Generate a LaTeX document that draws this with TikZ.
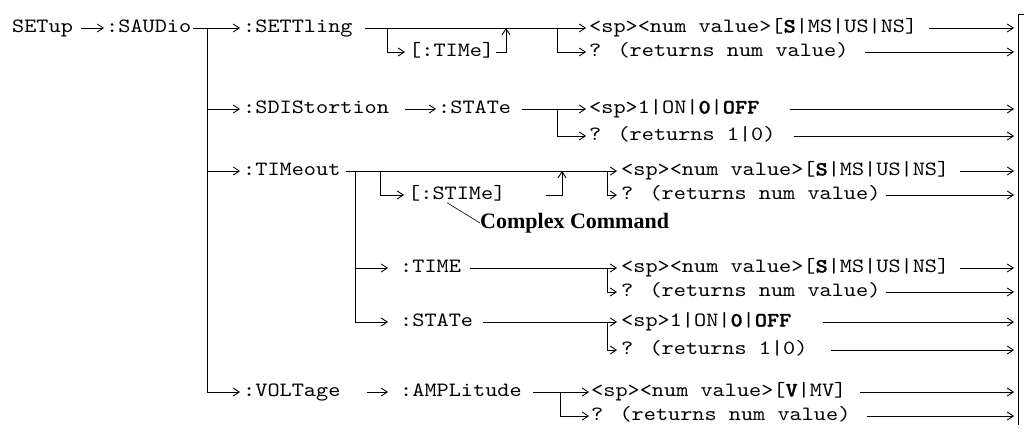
\documentclass[tikz,border=0pt]{standalone}
\usepackage{fontspec}
\newfontfamily\cour{lmmono10-regular.otf}[FakeStretch=1.14, BoldFont=lmmonolt10-bold.otf, BoldFeatures={FakeStretch=1.14,FakeBold=1.2}]
\newfontfamily\ccfont{Liberation Serif}
\usetikzlibrary{arrows.meta}
\begin{document}
\begin{tikzpicture}[x=1pt,y=-1pt,
  t/.style={anchor=west,inner sep=0pt,text height=12pt,text depth=3pt,font=\cour\fontsize{20.3}{24}\selectfont},
  ln/.style={line width=0.9pt},
  arr/.style={ln,-{Straight Barb[length=6pt,width=8pt,line width=0.9pt]}},
  lead/.style={line width=0.6pt},
  cctext/.style={anchor=west,inner sep=0pt,font=\ccfont\bfseries\fontsize{22}{26}\selectfont}
]
\useasboundingbox (0,0) rectangle (1024,434);
% level 0 / 1
\node[t] (setup) at (12,28) {SETup};
\node[t] (saudio) at (106,28) {:SAUDio};
\node[t] (settl) at (243,28) {:SETTling};
\node[t] (sdis) at (243,109) {:SDIStortion};
\node[t] (timeout) at (243,171) {:TIMeout};
\node[t] (volt) at (243,392) {:VOLTage};
\coordinate (tr1) at (207,28);
\coordinate (tr2) at (207,392);
\coordinate (bar) at (1014,0);
\draw[arr] ([xshift=8pt]setup.east) -- ([xshift=-2pt]saudio.west);
\draw[arr] ([xshift=2pt]saudio.east) -- ([xshift=-3pt]settl.west);
\draw[ln] (tr1) -- (tr2);
\draw[arr] (tr1 |- sdis.west) -- ([xshift=-3pt]sdis.west);
\draw[arr] (tr1 |- timeout.west) -- ([xshift=-3pt]timeout.west);
\draw[arr] (tr2) -- ([xshift=-3pt]volt.west);
% SETTling
\node[t] (s1a) at (589,28) {<sp><num value>[\textbf{S}|MS|US|NS]};
\node[t] (s1b) at (589,52) {? (returns num value)};
\node[t] (tim) at (409,52) {[:TIMe]};
\coordinate (b1) at (387,28);
\coordinate (rt1) at (506,28);
\coordinate (q1) at (557,28);
\draw[arr] ([xshift=12pt]settl.east) -- ([xshift=-3pt]s1a.west);
\draw[arr] (b1) |- ([xshift=-4pt]tim.west);
\draw[arr] ([xshift=2pt]tim.east) -| (rt1);
\draw[arr] (q1) |- ([xshift=-3pt]s1b.west);
\draw[arr] ([xshift=12pt]s1a.east) -- (s1a.east -| bar);
\draw[arr] ([xshift=16pt]s1b.east) -- (s1b.east -| bar);
% SDIStortion
\node[t] (st1) at (438,109) {:STATe};
\node[t] (s3a) at (589,109) {<sp>1|ON|\textbf{0}|\textbf{OFF}};
\node[t] (s3b) at (589,136) {? (returns 1|0)};
\coordinate (q3) at (557,109);
\draw[arr] ([xshift=16pt]sdis.east) -- ([xshift=-2pt]st1.west);
\draw[arr] ([xshift=11pt]st1.east) -- ([xshift=-3pt]s3a.west);
\draw[arr] (q3) |- ([xshift=-3pt]s3b.west);
\draw[arr] ([xshift=30pt]s3a.east) -- (s3a.east -| bar);
\draw[arr] ([xshift=18pt]s3b.east) -- (s3b.east -| bar);
% TIMeout
\node[t] (s5a) at (621,171) {<sp><num value>[\textbf{S}|MS|US|NS]};
\node[t] (s5b) at (621,195) {? (returns num value)};
\node[t] (stime) at (408,195) {[:STIMe]};
\node[cctext] (cc) at (480,223) {Complex Command};
\coordinate (sub1) at (355,171);
\coordinate (sub2) at (355,322);
\coordinate (b5) at (380,171);
\coordinate (rt5) at (562,171);
\coordinate (q5) at (607,171);
\draw[arr] ([xshift=5pt]timeout.east) -- ([xshift=-4pt]s5a.west);
\draw[ln] (sub1) -- (sub2);
\draw[arr] (b5) |- ([xshift=-4pt]stime.west);
\draw[arr] ([xshift=40pt]stime.east) -| (rt5);
\draw[arr] (q5) |- ([xshift=-4pt]s5b.west);
\draw[lead] ([xshift=39pt]stime.south west) -- (cc.west);
\draw[arr] ([xshift=11pt]s5a.east) -- (s5a.east -| bar);
\draw[arr] ([xshift=5pt]s5b.east) -- (s5b.east -| bar);
% TIME
\node[t] (time) at (400,268) {:TIME};
\node[t] (s7a) at (621,268) {<sp><num value>[\textbf{S}|MS|US|NS]};
\node[t] (s7b) at (621,292) {? (returns num value)};
\coordinate (q7) at (607,268);
\draw[arr] (sub1 |- time.west) -- ([xshift=-12pt]time.west);
\draw[arr] ([xshift=9pt]time.east) -- ([xshift=-4pt]s7a.west);
\draw[arr] (q7) |- ([xshift=-4pt]s7b.west);
\draw[arr] ([xshift=11pt]s7a.east) -- (s7a.east -| bar);
\draw[arr] ([xshift=5pt]s7b.east) -- (s7b.east -| bar);
% STATe
\node[t] (st2) at (400,322) {:STATe};
\node[t] (s9a) at (621,322) {<sp>1|ON|\textbf{0}|\textbf{OFF}};
\node[t] (s9b) at (621,350) {? (returns 1|0)};
\coordinate (q9) at (607,322);
\draw[arr] (sub2) -- ([xshift=-12pt]st2.west);
\draw[arr] ([xshift=10pt]st2.east) -- ([xshift=-4pt]s9a.west);
\draw[arr] (q9) |- ([xshift=-4pt]s9b.west);
\draw[arr] ([xshift=31pt]s9a.east) -- (s9a.east -| bar);
\draw[arr] ([xshift=23pt]s9b.east) -- (s9b.east -| bar);
% VOLTage
\node[t] (amp) at (400,392) {:AMPLitude};
\node[t] (s11a) at (591,392) {<sp><num value>[\textbf{V}|MV]};
\node[t] (s11b) at (591,416) {? (returns num value)};
\coordinate (q11) at (560,392);
\draw[arr] ([xshift=26pt]volt.east) -- ([xshift=-12pt]amp.west);
\draw[arr] ([xshift=11pt]amp.east) -- ([xshift=-2pt]s11a.west);
\draw[arr] (q11) |- ([xshift=-2pt]s11b.west);
\draw[arr] ([xshift=13pt]s11a.east) -- (s11a.east -| bar);
\draw[arr] ([xshift=16pt]s11b.east) -- (s11b.east -| bar);
% right bar
\coordinate (bartop) at (1018,14);
\coordinate (barbot) at (1018,425);
\draw[ln] ([xshift=6pt]bartop) -- (bartop) -- (barbot);
\end{tikzpicture}
\end{document}
